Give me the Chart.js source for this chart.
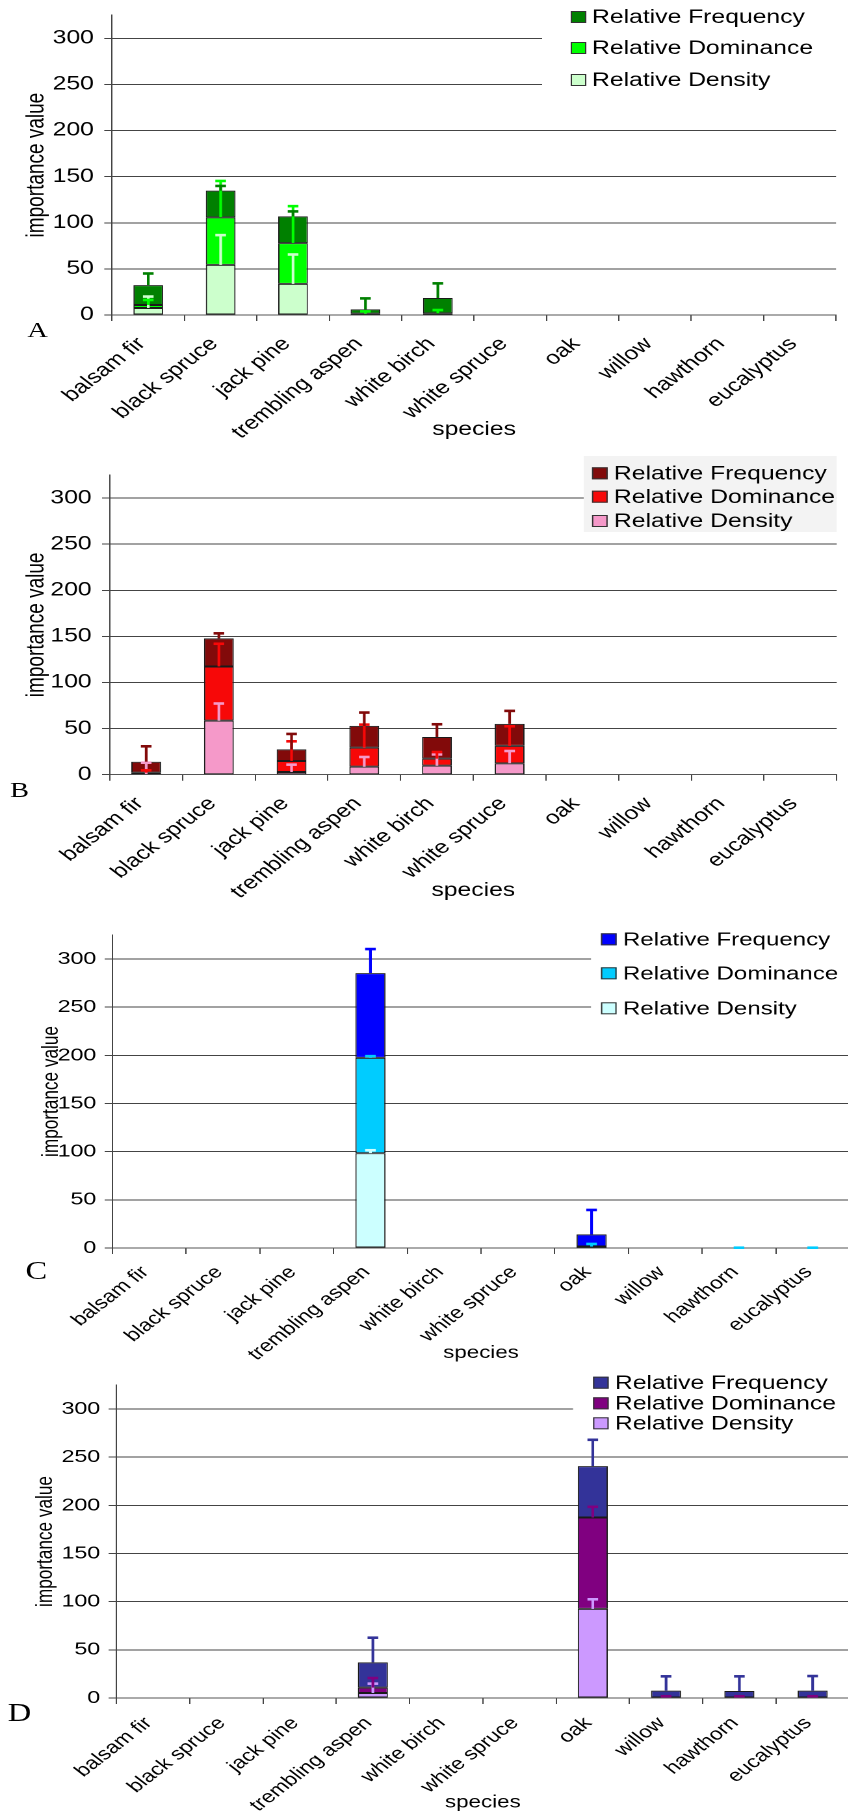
<!DOCTYPE html>
<html>
<head>
<meta charset="utf-8">
<script src="https://cdn.jsdelivr.net/npm/chart.js@4.4.1/dist/chart.umd.min.js"></script>
<style>
  html, body { margin: 0; padding: 0; background: #fff; width: 848px; height: 1813px; overflow: hidden; }
  /* the whole figure is laid out narrow and stretched 1.3x horizontally */
  #fig { position: absolute; left: 0; top: 0; width: 660px; height: 1813px; transform: scaleX(1.3); transform-origin: 0 0; }
  .panel { position: absolute; left: 0; width: 660px; }
  .panel canvas { display: block; }
  .tag { position: absolute; font-family: "Liberation Serif", "Times New Roman", serif; color: #000; line-height: 1; transform: translate(-50%, -50%); }
</style>
</head>
<body>
<div id="fig">
  <div class="panel" style="top:0px;height:455px"><canvas id="cA" width="660" height="455"></canvas></div>
  <div class="panel" style="top:452px;height:458px"><canvas id="cB" width="660" height="458"></canvas></div>
  <div class="panel" style="top:905px;height:470px"><canvas id="cC" width="660" height="470"></canvas></div>
  <div class="panel" style="top:1358px;height:455px"><canvas id="cD" width="660" height="455"></canvas></div>
  <div class="tag" style="left:29px;top:330px;font-size:22px">A</div>
  <div class="tag" style="left:15px;top:790px;font-size:22px">B</div>
  <div class="tag" style="left:28px;top:1270px;font-size:25px">C</div>
  <div class="tag" style="left:15px;top:1712px;font-size:25px">D</div>
</div>
<script>
// ---- data -------------------------------------------------------------
const species = ['balsam fir', 'black spruce', 'jack pine', 'trembling aspen', 'white birch',
                 'white spruce', 'oak', 'willow', 'hawthorn', 'eucalyptus'];
const seriesNames = ['Relative Density', 'Relative Dominance', 'Relative Frequency'];
const yTickStep = 50;
const yMax = 325;

// site A
const densityA      = [7.6, 54.3, 33.7, 0.3, 0.3, 0, 0, 0, 0, 0];
const dominanceA    = [3.3, 51.5, 44.2, 1.2, 1.5, 0, 0, 0, 0, 0];
const frequencyA    = [21.5, 29.0, 29.0, 4.6, 16.6, 0, 0, 0, 0, 0];
const densityErrA   = [12.4, 32.3, 31.9, 0, 0, 0, 0, 0, 0, 0];
const dominanceErrA = [5.4, 39.5, 40.1, 2.4, 3.6, 0, 0, 0, 0, 0];
const frequencyErrA = [12.6, 5.1, 5.4, 11.9, 15.9, 0, 0, 0, 0, 0];

// site B
const densityB      = [0.7, 58.7, 2.9, 8.7, 9.8, 12.3, 0, 0, 0, 0];
const dominanceB    = [1.5, 58.7, 12.0, 20.6, 7.6, 18.9, 0, 0, 0, 0];
const frequencyB    = [11.9, 30.4, 12.6, 23.6, 23.5, 23.9, 0, 0, 0, 0];
const densityErrB   = [12.3, 18.5, 8.0, 10.5, 12.2, 13.4, 0, 0, 0, 0];
const dominanceErrB = [2.5, 24.6, 21.3, 25.0, 7.2, 21.3, 0, 0, 0, 0];
const frequencyErrB = [16.7, 5.5, 16.7, 14.5, 13.8, 14.1, 0, 0, 0, 0];

// site C
const densityC      = [0, 0, 0, 98.4, 0, 0, 0.3, 0, 0, 0];
const dominanceC    = [0, 0, 0, 99.0, 0, 0, 1.2, 0, 0, 0];
const frequencyC    = [0, 0, 0, 88.0, 0, 0, 12.6, 0, 0, 0];
const densityErrC   = [0, 0, 0, 3.1, 0, 0, 0, 0, 0, 0];
const dominanceErrC = [0, 0, 0, 1.8, 0, 0, 2.7, 0, 0.3, 0.3];
const frequencyErrC = [0, 0, 0, 25.0, 0, 0, 25.4, 0, 0, 0];

// site D
const densityD      = [0, 0, 0, 5.2, 0, 0, 92.5, 0, 0, 0];
const dominanceD    = [0, 0, 0, 5.6, 0, 0, 94.9, 0.5, 0.5, 0.5];
const frequencyD    = [0, 0, 0, 26.2, 0, 0, 53.3, 7.1, 6.8, 7.1];
const densityErrD   = [0, 0, 0, 9.7, 0, 0, 10.0, 0, 0, 0];
const dominanceErrD = [0, 0, 0, 9.9, 0, 0, 11.1, 1.3, 1.3, 1.3];
const frequencyErrD = [0, 0, 0, 25.6, 0, 0, 27.4, 14.9, 15.2, 15.2];

// ---- styling ------------------------------------------------------------
const FONT = '"Liberation Sans", Arial, sans-serif';
const CANVAS_W = 660;
const LABEL_ROTATION = 45;

const panels = [
  { id: 'cA', height: 455, axisLeft: 86.2, plotRight: 643.1, plotTop: 15.2, zeroY: 315,
    series: [densityA, dominanceA, frequencyA], errors: [densityErrA, dominanceErrA, frequencyErrA],
    colors: ['#CCFFCC', '#00FF00', '#008000'],
    tickFont: 19, tickPad: 8, labelFont: 18.8, labelPad: 12, labelShift: -5,
    titleFont: 19, yTitlePad: 16.9, xTitlePad: 13.6,
    legend: { bg: [417, 0, 243, 100], bgColor: '#ffffff', keyX: 439, textX: 455.4, rows: [17, 48, 80], font: 19 } },
  { id: 'cB', height: 458, axisLeft: 84.5, plotRight: 643.6, plotTop: 23, zeroY: 322.7,
    series: [densityB, dominanceB, frequencyB], errors: [densityErrB, dominanceErrB, frequencyErrB],
    colors: ['#F599C9', '#F70808', '#820A0A'],
    tickFont: 19, tickPad: 8, labelFont: 18.8, labelPad: 12, labelShift: -5,
    titleFont: 19, yTitlePad: 16.9, xTitlePad: 7.9,
    legend: { bg: [449, 4, 194.6, 76], bgColor: '#f3f3f3', keyX: 455.4, textX: 472.3, rows: [21.3, 44.7, 69], font: 19 } },
  { id: 'cC', height: 470, axisLeft: 86.5, plotRight: 653.5, plotTop: 30, zeroY: 343,
    series: [densityC, dominanceC, frequencyC], errors: [densityErrC, dominanceErrC, frequencyErrC],
    colors: ['#CCFFFF', '#00CCFF', '#0000FF'],
    tickFont: 17.8, tickPad: 6.5, labelFont: 17.5, labelPad: 8, labelShift: -3,
    titleFont: 17.2, yTitlePad: 29.2, xTitlePad: 11.5,
    legend: { bg: [454.6, 0, 205.4, 125], bgColor: '#ffffff', keyX: 462.3, textX: 479.2, rows: [34.3, 68.3, 103.3], font: 18.5 } },
  { id: 'cD', height: 455, axisLeft: 89.5, plotRight: 653.3, plotTop: 27, zeroY: 340,
    series: [densityD, dominanceD, frequencyD], errors: [densityErrD, dominanceErrD, frequencyErrD],
    colors: ['#CC99FF', '#800080', '#333399'],
    tickFont: 17.8, tickPad: 6.5, labelFont: 17.5, labelPad: 9, labelShift: -3.4,
    titleFont: 17.2, yTitlePad: 25.1, xTitlePad: 0,
    legend: { bg: [440.8, 0, 219.2, 77], bgColor: '#ffffff', keyX: 456.2, textX: 473, rows: [24.7, 45.3, 65.3], font: 19 } }
];

// error bars drawn from the top of each stacked segment
const errorBars = {
  id: 'errorBars',
  afterDatasetsDraw(chart) {
    const { ctx } = chart;
    const yScale = chart.scales.y;
    const sums = new Array(chart.data.labels.length).fill(0);
    ctx.save();
    chart.data.datasets.forEach((ds, k) => {
      const meta = chart.getDatasetMeta(k);
      ds.data.forEach((v, i) => {
        sums[i] += v;
        const err = ds.errors[i];
        if (!err) return;
        const x = meta.data[i].x;
        const y0 = yScale.getPixelForValue(sums[i]);
        const y1 = yScale.getPixelForValue(sums[i] + err);
        ctx.strokeStyle = ds.backgroundColor;
        ctx.lineWidth = 2.1;
        ctx.beginPath(); ctx.moveTo(x, y0); ctx.lineTo(x, y1); ctx.stroke();
        ctx.lineWidth = 2.6;
        ctx.beginPath(); ctx.moveTo(x - 4.1, y1); ctx.lineTo(x + 4.1, y1); ctx.stroke();
      });
    });
    ctx.restore();
  }
};

// boxed legend in the upper right, listed top series first
function keyLegend(cfg) {
  return {
    id: 'keyLegend',
    beforeDatasetsDraw(chart) {
      const { ctx } = chart;
      ctx.save();
      ctx.fillStyle = cfg.bgColor;
      ctx.fillRect(cfg.bg[0], cfg.bg[1], cfg.bg[2], cfg.bg[3]);
      ctx.font = cfg.font + 'px ' + FONT;
      ctx.textBaseline = 'middle';
      const order = chart.data.datasets.map((d, k) => k).reverse();
      order.forEach((k, r) => {
        const ds = chart.data.datasets[k];
        const cy = cfg.rows[r];
        ctx.fillStyle = ds.backgroundColor;
        ctx.fillRect(cfg.keyX, cy - 6, 12, 12);
        ctx.strokeStyle = '#333';
        ctx.lineWidth = 1;
        ctx.strokeRect(cfg.keyX + 0.5, cy - 5.5, 11, 11);
        ctx.fillStyle = '#000';
        ctx.fillText(ds.label, cfg.textX, cy + 1);
      });
      ctx.restore();
    }
  };
}

function makeChart(p) {
  return new Chart(document.getElementById(p.id), {
    type: 'bar',
    data: {
      labels: species,
      datasets: p.series.map((vals, k) => ({
        label: seriesNames[k],
        data: vals,
        errors: p.errors[k],
        backgroundColor: p.colors[k],
        borderColor: '#1a1a1a',
        borderWidth: 1,
        borderSkipped: false,
        barPercentage: 0.41,
        categoryPercentage: 1
      }))
    },
    options: {
      responsive: false,
      animation: false,
      devicePixelRatio: 2,
      layout: { padding: { left: 0, top: p.plotTop, right: CANVAS_W - p.plotRight, bottom: 0 } },
      plugins: { legend: { display: false }, tooltip: { enabled: false } },
      scales: {
        x: {
          stacked: true,
          grid: { display: true, drawOnChartArea: false, drawTicks: true, tickLength: 6, color: '#444', offset: true },
          border: { display: true, color: '#555', width: 1 },
          ticks: { autoSkip: false, minRotation: LABEL_ROTATION, maxRotation: LABEL_ROTATION, padding: p.labelPad,
                   labelOffset: p.labelShift, color: '#000', font: { family: FONT, size: p.labelFont } },
          title: { display: true, text: 'species', color: '#000', font: { family: FONT, size: p.titleFont },
                   padding: { top: 0, bottom: p.xTitlePad } },
          afterCalculateLabelRotation(s) { s.labelRotation = LABEL_ROTATION; },
          afterFit(s) { s.height = p.height - p.zeroY; s.paddingLeft = 0; s.paddingRight = 0; }
        },
        y: {
          stacked: true,
          min: 0,
          max: yMax,
          ticks: { stepSize: yTickStep, includeBounds: false, padding: p.tickPad, color: '#000',
                   font: { family: FONT, size: p.tickFont } },
          grid: { color: '#444', lineWidth: 1, tickLength: 6, drawTicks: true },
          border: { display: true, color: '#444', width: 1 },
          title: { display: true, text: 'importance value', color: '#000', font: { family: FONT, size: p.titleFont },
                   padding: { top: p.yTitlePad, bottom: 0 } },
          afterFit(s) { s.width = p.axisLeft; s.paddingTop = 0; s.paddingBottom = 0; }
        }
      }
    },
    plugins: [keyLegend(p.legend), errorBars]
  });
}

panels.forEach(makeChart);
</script>
</body>
</html>
